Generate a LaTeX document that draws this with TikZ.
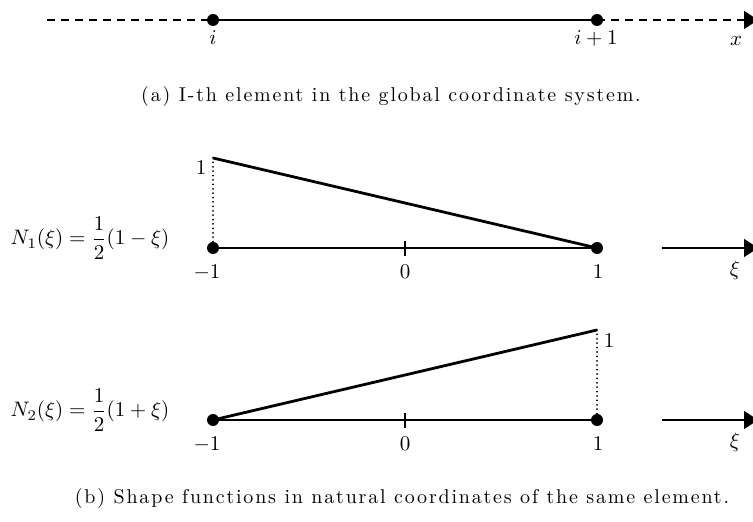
\RequirePackage{fix-cm}
\documentclass[tikz,border=0pt]{standalone}
\usepackage{fontspec}
\setmainfont{Latin Modern Roman}
\usetikzlibrary{arrows.meta}
\tikzset{
  dot/.style={circle,fill=black,inner sep=0pt,minimum size=6pt},
  axisline/.style={line width=0.85pt},
  topline/.style={line width=1pt},
  shapeline/.style={line width=1.4pt},
  dashline/.style={line width=0.9pt,dash pattern=on 4pt off 3pt},
  dotline/.style={line width=1pt,line cap=round,dash pattern=on 0pt off 2.2pt},
  lbl/.style={inner sep=0pt,font=\fontsize{10.5}{12}\selectfont},
  captext/.style={inner sep=0pt,font=\fontsize{10}{12}\selectfont\addfontfeatures{LetterSpace=9}},
  tip/.style={-{Triangle[length=7pt,width=9pt]}}
}
\begin{document}
\begin{tikzpicture}[x=0.5pt,y=-0.5pt]
\useasboundingbox (0,0) rectangle (753,522);

% (a) global element
\coordinate (xs) at (47,20);
\node[dot] (ni) at (213,20) {};
\node[dot] (nj) at (597,20) {};
\coordinate (xe) at (758,20);
\draw[dashline] (xs) -- (ni.center);
\draw[topline] (ni.center) -- (nj.center);
\draw[dashline,tip] (nj.center) -- (xe);
\node[lbl,anchor=base] (li) at (213,45) {$i$};
\node[lbl,anchor=base] (lj) at (596,45) {$i+1$};
\node[lbl,anchor=base] (lx) at (736,46) {$x$};
\node[captext] (capa) at (391,97) {(a) I-th element in the global coordinate system.};

% (b) N1
\node[dot] (pa) at (213,248) {};
\node[dot] (pb) at (597,248) {};
\coordinate (pm) at (405,248);
\coordinate (ptop) at (213,158);
\draw[axisline] (pa.center) -- (pb.center);
\draw[axisline] ([yshift=3.6pt]pm) -- ([yshift=-4pt]pm);
\draw[shapeline] (ptop) -- (pb.center);
\draw[dotline] (ptop) -- (pa.center);
\node[lbl] (pone) at (201,168) {$1$};
\node[lbl,anchor=base] (pla) at (207,279) {$-1$};
\node[lbl,anchor=base] (plm) at (405,279) {$0$};
\node[lbl,anchor=base] (plb) at (598,279) {$1$};
\coordinate (as) at (662,248);
\coordinate (ae) at (758,248);
\draw[axisline,tip] (as) -- (ae);
\node[lbl,anchor=base] (axi) at (735,276) {$\xi$};
\node[lbl,anchor=base] (nlab) at (90,245) {$N_1(\xi) = \displaystyle\frac{1}{2}(1-\xi)$};

% (b) N2
\node[dot] (qa) at (213,420) {};
\node[dot] (qb) at (597,420) {};
\coordinate (qm) at (405,420);
\coordinate (qtop) at (597,330);
\draw[axisline] (qa.center) -- (qb.center);
\draw[axisline] ([yshift=3.6pt]qm) -- ([yshift=-4pt]qm);
\draw[shapeline] (qa.center) -- (qtop);
\draw[dotline] (qtop) -- (qb.center);
\node[lbl] (qone) at (609,341) {$1$};
\node[lbl,anchor=base] (qla) at (207,451) {$-1$};
\node[lbl,anchor=base] (qlm) at (405,451) {$0$};
\node[lbl,anchor=base] (qlb) at (598,451) {$1$};
\coordinate (bs) at (662,420);
\coordinate (be) at (758,420);
\draw[axisline,tip] (bs) -- (be);
\node[lbl,anchor=base] (bxi) at (735,448) {$\xi$};
\node[lbl,anchor=base] (mlab) at (90,417) {$N_2(\xi) = \displaystyle\frac{1}{2}(1+\xi)$};

\node[captext] (capb) at (402,498) {(b) Shape functions in natural coordinates of the same element.};
\end{tikzpicture}
\end{document}
